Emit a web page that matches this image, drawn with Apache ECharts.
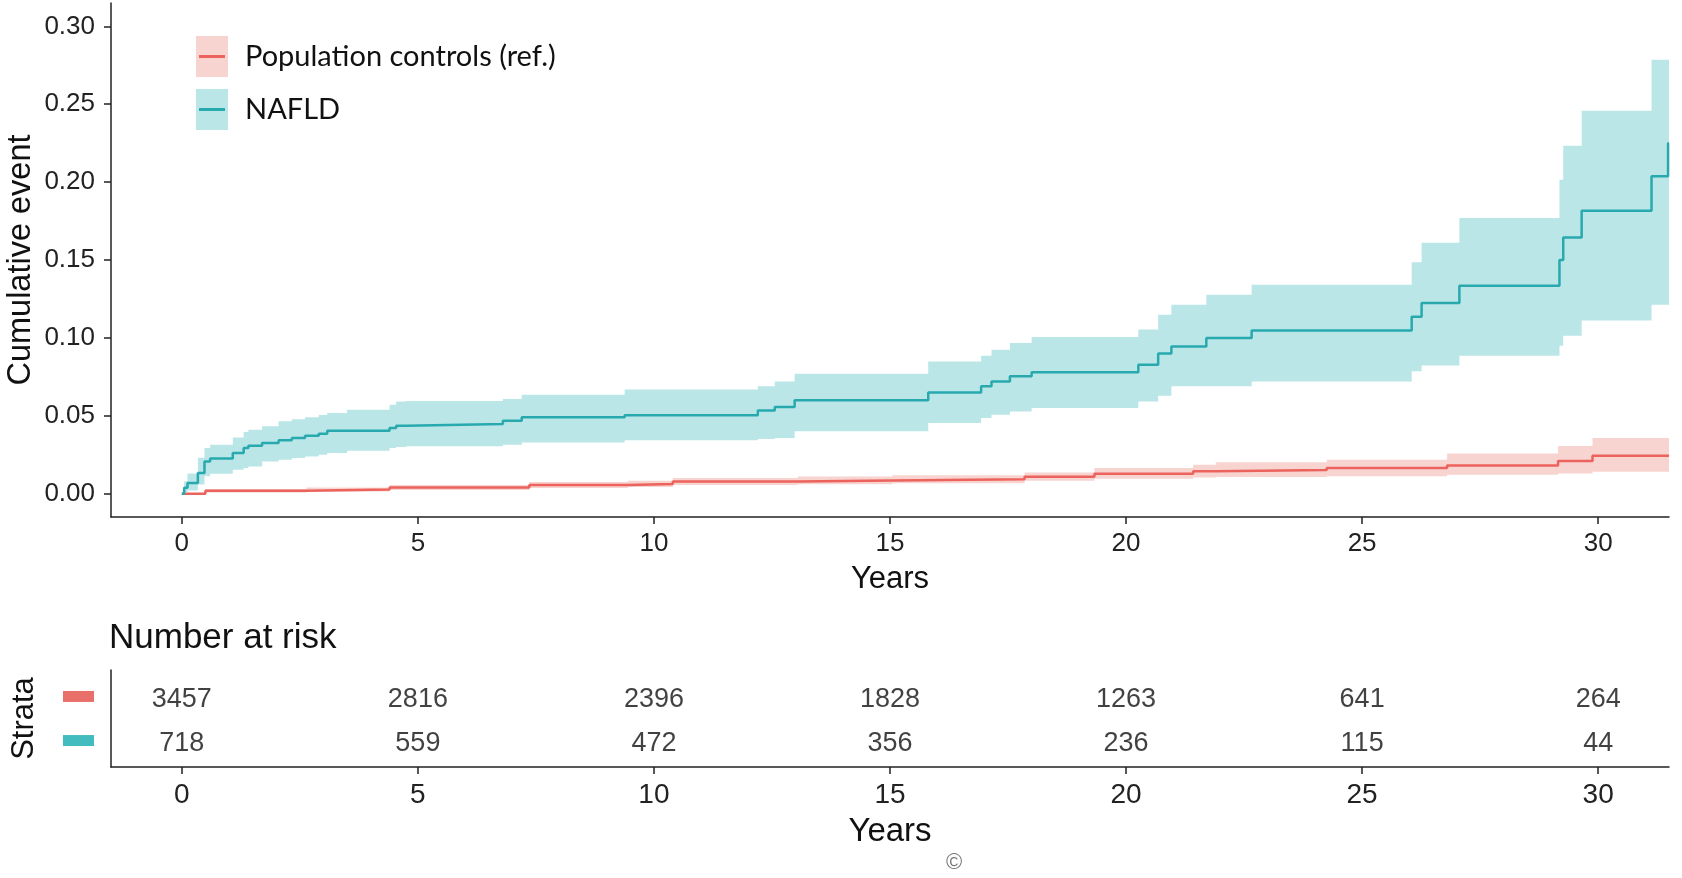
<!DOCTYPE html>
<html><head><meta charset="utf-8">
<script src="https://cdn.jsdelivr.net/npm/echarts@6/dist/echarts.min.js"></script>
<style>html,body{margin:0;padding:0;background:#fff}#c{width:1682px;height:878px}</style>
</head><body><div id="c"></div>
<script>
// ---- data ----
const groupNames = ['Population controls (ref.)', 'NAFLD'];

const nafldTime = [0, 0.05, 0.12, 0.34, 0.48, 0.6, 1.08, 1.31, 1.41, 1.7, 2.05, 2.33, 2.61, 2.9, 3.08, 3.5, 4.4, 4.54, 4.75, 6.8, 7.2, 9.38, 12.2, 12.56, 12.98, 15.81, 16.93, 17.15, 17.54, 18.0, 20.26, 20.68, 20.96, 21.7, 22.66, 26.05, 26.26, 27.06, 29.18, 29.26, 29.65, 31.13, 31.48, 31.5];
const nafldEst  = [0, 0.0037, 0.0069, 0.0133, 0.0207, 0.0225, 0.0261, 0.0293, 0.0308, 0.0325, 0.0342, 0.0357, 0.0372, 0.0385, 0.0404, 0.0404, 0.0421, 0.0436, 0.0447, 0.0468, 0.0490, 0.0503, 0.0533, 0.0556, 0.0599, 0.0650, 0.0689, 0.0720, 0.0753, 0.0779, 0.0828, 0.0899, 0.0945, 0.0999, 0.1048, 0.1136, 0.1224, 0.1335, 0.1500, 0.1645, 0.1816, 0.2037, 0.2250, 0.2250];
const nafldLow  = [0, 0.0010, 0.0020, 0.0058, 0.0111, 0.0128, 0.0154, 0.0165, 0.0175, 0.0207, 0.0218, 0.0228, 0.0239, 0.0250, 0.0261, 0.0275, 0.0293, 0.0300, 0.0304, 0.0314, 0.0329, 0.0342, 0.0350, 0.0357, 0.0400, 0.0454, 0.0486, 0.0507, 0.0528, 0.0550, 0.0592, 0.0629, 0.0689, 0.0689, 0.0720, 0.0785, 0.0822, 0.0886, 0.0950, 0.1014, 0.1112, 0.1213, 0.1213, 0.1213];
const nafldUpp  = [0, 0.0080, 0.0130, 0.0230, 0.0293, 0.0314, 0.0360, 0.0395, 0.0410, 0.0432, 0.0464, 0.0477, 0.0490, 0.0505, 0.0518, 0.0539, 0.0571, 0.0592, 0.0595, 0.0608, 0.0635, 0.0668, 0.0689, 0.0720, 0.0770, 0.0849, 0.0886, 0.0924, 0.0967, 0.1006, 0.1053, 0.1149, 0.1213, 0.1277, 0.1341, 0.1485, 0.1610, 0.1770, 0.2015, 0.2234, 0.2458, 0.2786, 0.2786, 0.2786];

const popTime = [0, 0.5, 2.64, 4.4, 7.36, 9.45, 10.4, 13.05, 15.05, 17.85, 19.33, 21.42, 21.9, 24.25, 26.8, 29.15, 29.88, 31.5];
const popEst  = [0, 0.0019, 0.0026, 0.0040, 0.0055, 0.0062, 0.0078, 0.0085, 0.0092, 0.0108, 0.0128, 0.0143, 0.0152, 0.0165, 0.0180, 0.0209, 0.0244, 0.0244];
const popLow  = [0, 0.0008, 0.0013, 0.0024, 0.0036, 0.0042, 0.0055, 0.0060, 0.0066, 0.0082, 0.0095, 0.0103, 0.0107, 0.0112, 0.0122, 0.0130, 0.0140, 0.0140];
const popUpp  = [0, 0.0030, 0.0039, 0.0056, 0.0074, 0.0082, 0.0101, 0.0110, 0.0118, 0.0135, 0.0165, 0.0186, 0.0201, 0.0218, 0.0257, 0.0306, 0.0357, 0.0357];

const riskTimes = [0, 5, 10, 15, 20, 25, 30];
const riskPop   = [3457, 2816, 2396, 1828, 1263, 641, 264];
const riskNafld = [718, 559, 472, 356, 236, 115, 44];

const xTicks = [0, 5, 10, 15, 20, 25, 30];
const yTicks = [0, 0.05, 0.10, 0.15, 0.20, 0.25, 0.30];

// ---- style ----
const popLine = '#ec625c', popBand = '#f8d4d1', popKey = '#e9706a';
const nafLine = '#27a9ae', nafBand = '#bae6e8', nafKey = '#42bcbf';
const axisCol = '#222';
const SANS = "'Liberation Sans', Arial, sans-serif";
const NARROW = "'Liberation Sans Narrow', 'Arial Narrow', 'Liberation Sans', sans-serif";

const zip = (a, b) => a.map((v, i) => [v, b[i]]);

// stepped confidence band drawn as one polygon through the axis scales
function bandSeries(time, low, upp, color) {
  return {
    type: 'custom', xAxisIndex: 0, yAxisIndex: 0, silent: true, z: 1, clip: true,
    data: time.map((t, i) => [t, low[i], upp[i]]),
    encode: { x: 0, y: [1, 2] },
    renderItem: function (params, api) {
      if (params.dataIndex !== 0) return null;
      const n = time.length, pts = [];
      for (let i = 0; i < n; i++) {
        const tn = i + 1 < n ? time[i + 1] : time[i];
        pts.push(api.coord([time[i], upp[i]]), api.coord([tn, upp[i]]));
      }
      for (let i = n - 1; i >= 0; i--) {
        const tn = i + 1 < n ? time[i + 1] : time[i];
        pts.push(api.coord([tn, low[i]]), api.coord([time[i], low[i]]));
      }
      return { type: 'polygon', shape: { points: pts }, style: { fill: color } };
    }
  };
}

const chart = echarts.init(document.getElementById('c'));
chart.setOption({
  animation: false,
  backgroundColor: '#fff',
  title: {
    text: 'Number at risk', left: 104, top: 616,
    textStyle: { fontFamily: NARROW, fontSize: 35, fontWeight: 'normal', color: '#111' }
  },
  legend: [
    { left: 196, top: 36, padding: 0, orient: 'vertical', itemWidth: 32, itemHeight: 41, itemGap: 12, icon: 'rect', selectedMode: false,
      data: [{ name: groupNames[0], itemStyle: { color: popBand } }, { name: groupNames[1], itemStyle: { color: nafBand } }],
      textStyle: { fontFamily: 'Lato', fontSize: 29, color: '#111', lineHeight: 41, padding: [0, 0, 0, 12] } },
    { left: 199, top: 36, padding: 0, orient: 'vertical', itemWidth: 26, itemHeight: 3, itemGap: 12, icon: 'rect', selectedMode: false,
      data: [{ name: groupNames[0], itemStyle: { color: popLine } }, { name: groupNames[1], itemStyle: { color: nafLine } }],
      textStyle: { fontFamily: 'Lato', fontSize: 29, color: 'rgba(0,0,0,0)', lineHeight: 41, padding: [0, 0, 0, 12] } }
  ],
  grid: [
    { left: 111, right: 13, top: 3, height: 514, outerBoundsMode: 'none' },
    { left: 111, right: 13, top: 670, height: 97, outerBoundsMode: 'none' }
  ],
  xAxis: [
    { gridIndex: 0, type: 'value', min: -1.5, max: 31.5,
      axisLine: { show: true, onZero: false, lineStyle: { color: axisCol, width: 1.5 } },
      axisTick: { show: true, length: 7, customValues: xTicks, lineStyle: { color: axisCol, width: 1.5 } },
      axisLabel: { customValues: xTicks, fontFamily: SANS, fontSize: 26, color: axisCol, margin: 14 },
      splitLine: { show: false },
      name: 'Years', nameLocation: 'middle', nameGap: 47, nameMoveOverlap: false,
      nameTextStyle: { fontFamily: SANS, fontSize: 31, color: '#111' } },
    { gridIndex: 1, type: 'value', min: -1.5, max: 31.5,
      axisLine: { show: true, onZero: false, lineStyle: { color: axisCol, width: 1.5 } },
      axisTick: { show: true, length: 7, customValues: xTicks, lineStyle: { color: axisCol, width: 1.5 } },
      axisLabel: { customValues: xTicks, fontFamily: NARROW, fontSize: 28, color: axisCol, margin: 14 },
      splitLine: { show: false },
      name: 'Years', nameLocation: 'middle', nameGap: 48, nameMoveOverlap: false,
      nameTextStyle: { fontFamily: NARROW, fontSize: 33, color: '#111' } }
  ],
  yAxis: [
    { gridIndex: 0, type: 'value', min: -0.015, max: 0.315,
      axisLine: { show: true, onZero: false, lineStyle: { color: axisCol, width: 1.5 } },
      axisTick: { show: true, length: 7, customValues: yTicks, lineStyle: { color: axisCol, width: 1.5 } },
      axisLabel: { customValues: yTicks, formatter: v => Number(v).toFixed(2), fontFamily: SANS, fontSize: 26, color: axisCol, margin: 16 },
      splitLine: { show: false },
      name: 'Cumulative event', nameLocation: 'middle', nameGap: 73, nameMoveOverlap: false,
      nameTextStyle: { fontFamily: SANS, fontSize: 32.5, color: '#111' } },
    { gridIndex: 1, type: 'value', min: 0.4, max: 2.6,
      axisLine: { show: true, onZero: false, lineStyle: { color: axisCol, width: 1.5 } },
      axisTick: { show: false },
      axisLabel: { customValues: [1, 2], margin: 17,
        formatter: v => (Math.round(v) === 2 ? '{p|}' : '{n|}'),
        rich: { p: { backgroundColor: popKey, width: 31, height: 11 }, n: { backgroundColor: nafKey, width: 31, height: 11 } } },
      splitLine: { show: false },
      name: 'Strata', nameLocation: 'middle', nameGap: 71, nameMoveOverlap: false,
      nameTextStyle: { fontFamily: SANS, fontSize: 31, color: '#111' } }
  ],
  graphic: [
    { type: 'text', left: 946, top: 852, style: { text: '\u00A9', fontSize: 22, fill: '#777', fontFamily: SANS } }
  ],
  series: [
    bandSeries(popTime, popLow, popUpp, popBand),
    bandSeries(nafldTime, nafldLow, nafldUpp, nafBand),
    { name: groupNames[0], type: 'line', step: 'end', data: zip(popTime, popEst), symbol: 'none',
      lineStyle: { color: popLine, width: 2.5 }, itemStyle: { color: popLine }, z: 3 },
    { name: groupNames[1], type: 'line', step: 'end', data: zip(nafldTime, nafldEst), symbol: 'none',
      lineStyle: { color: nafLine, width: 2.5 }, itemStyle: { color: nafLine }, z: 3 },
    { type: 'scatter', xAxisIndex: 1, yAxisIndex: 1, symbolSize: 1, itemStyle: { color: 'rgba(0,0,0,0)' },
      data: riskTimes.map((t, i) => [t, 2, riskPop[i]]),
      label: { show: true, position: 'inside', offset: [0, 3], formatter: p => String(p.value[2]), fontFamily: NARROW, fontSize: 27, color: '#111' } },
    { type: 'scatter', xAxisIndex: 1, yAxisIndex: 1, symbolSize: 1, itemStyle: { color: 'rgba(0,0,0,0)' },
      data: riskTimes.map((t, i) => [t, 1, riskNafld[i]]),
      label: { show: true, position: 'inside', offset: [0, 3], formatter: p => String(p.value[2]), fontFamily: NARROW, fontSize: 27, color: '#111' } }
  ]
});
</script>
</body></html>
